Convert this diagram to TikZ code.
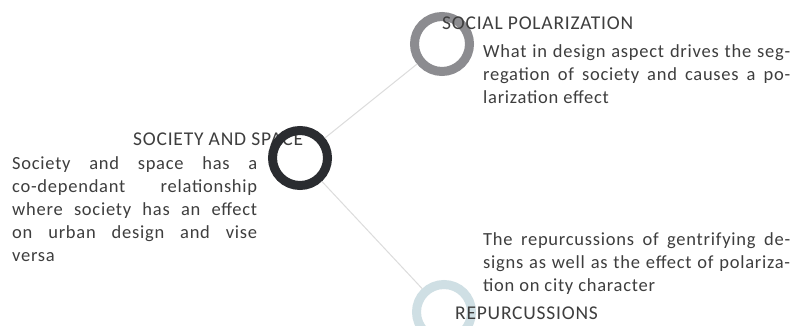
\documentclass[tikz,border=0pt]{standalone}
\usepackage{fontspec}
\setmainfont{Carlito}[LetterSpace=4]
\definecolor{txt}{HTML}{3E3E3E}
\definecolor{ringdark}{HTML}{2A2C30}
\definecolor{ringgray}{HTML}{8C8C90}
\definecolor{ringlight}{HTML}{CFDFE4}
\definecolor{linkc}{HTML}{DCDCDC}
\newcommand{\jline}[2]{\makebox[#1][s]{#2}}
\begin{document}
\begin{tikzpicture}[x=1pt,y=-1pt,
  ring/.style={circle, inner sep=0pt, minimum size=55pt, line width=9pt, draw=#1},
  title/.style={inner sep=0pt, anchor=base west, text=txt, font=\fontsize{19.5}{20}\selectfont},
  body/.style={inner sep=0pt, anchor=base west, text=txt, align=left, font=\fontsize{18.5}{23}\selectfont},
  link/.style={draw=linkc, line width=1pt}]
\useasboundingbox (0,0) rectangle (794,326);
\fill[white] (0,0) rectangle (794,326);
% left texts
\node[title] (t1) at (133,145) {SOCIETY AND SPACE};
\node[body] (b1) at (12,261) {\jline{245pt}{Society and space has a}\\
\jline{245pt}{co-dependant relationship}\\
\jline{245pt}{where society has an effect}\\
\jline{245pt}{on urban design and vise}\\
versa};
% rings
\node[ring=ringdark] (soc) at (300,158) {};
\node[ring=ringgray] (pol) at (442,44) {};
\node[title] (t2) at (442,30) {SOCIAL POLARIZATION};
\node[body] (b2) at (483,103) {\jline{307pt}{What in design aspect drives the seg-}\\
\jline{307pt}{regation of society and causes a po-}\\
larization effect};
\node[ring=ringlight] (rep) at (444,312) {};
\node[title] (t3) at (455,319) {REPURCUSSIONS};
\node[body] (b3) at (483,291) {\jline{307pt}{The repurcussions of gentrifying de-}\\
\jline{307pt}{signs as well as the effect of polariza-}\\
tion on city character};
% links
\draw[link] (soc) -- (pol);
\draw[link] (soc) -- (rep);
\end{tikzpicture}
\end{document}
